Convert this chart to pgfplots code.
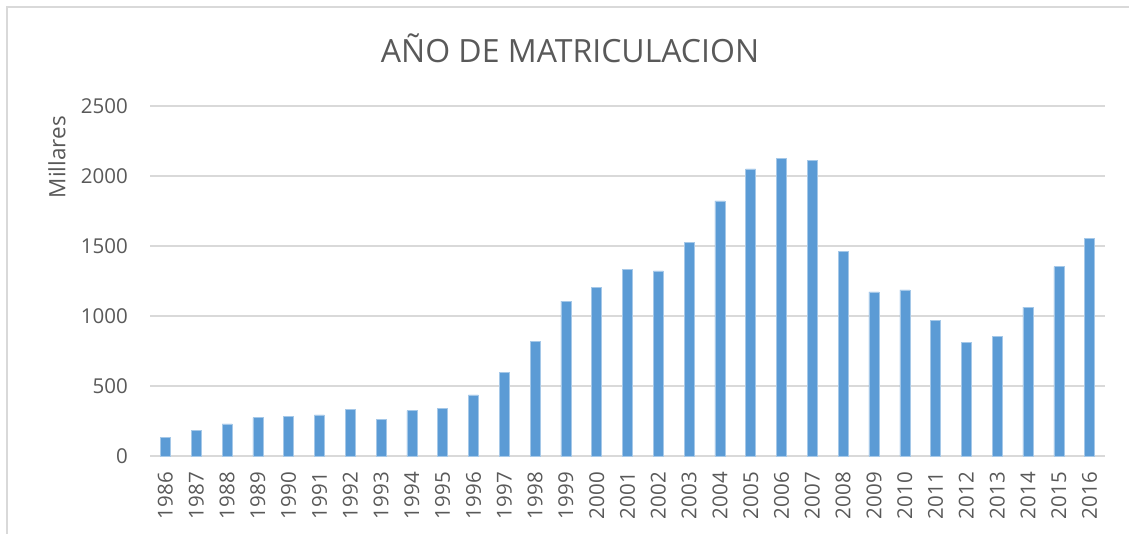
\documentclass[border=0pt]{standalone}
\usepackage{fontspec}
\setmainfont{Open Sans}
\usepackage{pgfplots}
\pgfplotsset{compat=1.18}
\definecolor{barblue}{HTML}{5B9BD5}
\definecolor{gridgray}{HTML}{D9D9D9}
\definecolor{txtgray}{HTML}{595959}

\begin{document}
\begin{tikzpicture}
\path[use as bounding box] (0,0) rectangle (1129pt,-534pt);
% chart frame
\draw[gridgray, line width=1.2pt] (7pt,-534pt) -- (7pt,-7pt) -- (1129pt,-7pt);
\node[anchor=base, text=txtgray, inner sep=0pt, font=\fontsize{32}{38}\selectfont]
  at (570pt,-63pt) {AÑO DE MATRICULACION};
\begin{axis}[
    at={(150pt,-456pt)}, anchor=south west,
    scale only axis,
    width=955pt, height=350pt,
    ybar, bar width=10pt,
    xmin=1985.5, xmax=2016.5,
    ymin=0, ymax=2500,
    ytick={0,500,...,2500},
    xtick=data,
    /pgf/number format/1000 sep={},
    /pgf/number format/assume math mode=true,
    axis line style={draw=none},
    major tick length=0pt,
    ymajorgrids,
    grid style={gridgray, line width=1.3pt},
    tick label style={text=txtgray, font=\fontsize{20.5}{24}\selectfont, inner sep=0pt},
    yticklabel style={anchor=east, xshift=-22pt},
    xticklabel style={rotate=90, anchor=east, xshift=-16pt},
    ylabel={Millares},
    ylabel style={at={(axis description cs:-0.0974,0.854)}, anchor=center,
                  text=txtgray, font=\fontsize{22.5}{26}\selectfont},
]
\addplot[fill=barblue, draw=barblue!55!white, line width=0.5pt] coordinates {
    (1986,131) (1987,184) (1988,229) (1989,275) (1990,284)
    (1991,294) (1992,332) (1993,260) (1994,325) (1995,339)
    (1996,437) (1997,597) (1998,817) (1999,1106) (2000,1204)
    (2001,1335) (2002,1323) (2003,1524) (2004,1822) (2005,2051)
    (2006,2128) (2007,2111) (2008,1459) (2009,1173) (2010,1187)
    (2011,970) (2012,812) (2013,853) (2014,1063) (2015,1352)
    (2016,1557)
};
\end{axis}
\end{tikzpicture}
\end{document}
